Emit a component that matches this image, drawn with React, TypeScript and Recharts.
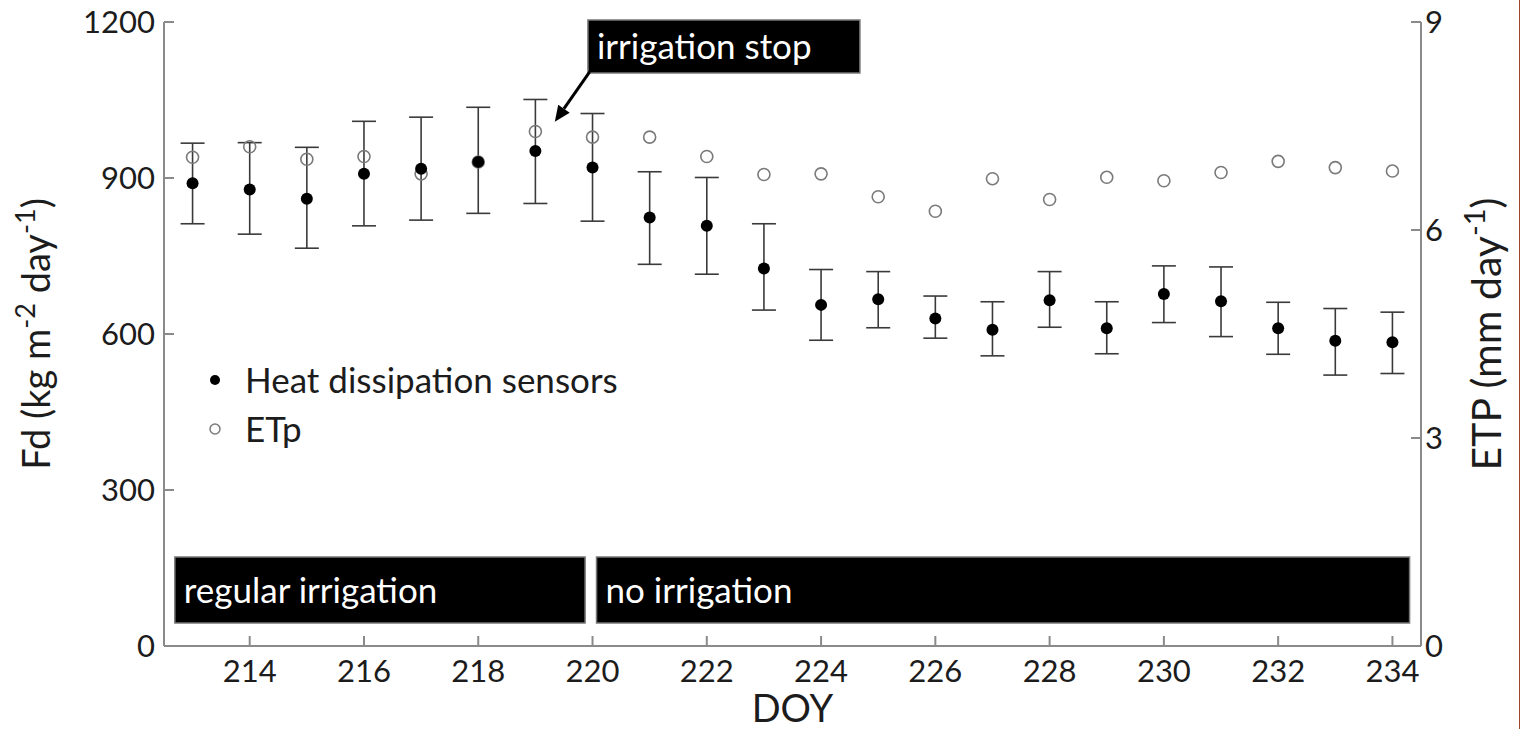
import React from 'react';
import {
  ScatterChart,
  Scatter,
  XAxis,
  YAxis,
  ErrorBar,
  ReferenceArea,
  ReferenceLine,
  Legend,
  Label,
} from 'recharts';

// day of year
const doy = [213, 214, 215, 216, 217, 218, 219, 220, 221, 222, 223, 224, 225, 226, 227, 228, 229, 230, 231, 232, 233, 234];

// sap flux density Fd (kg m-2 day-1), heat dissipation sensors
const fdMean = [890, 878, 860, 908, 918, 931, 952, 920, 824, 808, 726, 656, 667, 630, 608, 665, 611, 677, 663, 611, 587, 584];
const fdUpper = [967, 968, 959, 1009, 1017, 1036, 1051, 1024, 912, 901, 812, 724, 720, 673, 662, 720, 662, 731, 729, 661, 649, 642];
const fdLower = [812, 792, 765, 808, 819, 832, 851, 817, 734, 715, 646, 588, 612, 592, 558, 613, 562, 622, 595, 561, 521, 524];

// potential evapotranspiration (mm day-1)
const etp = [7.05, 7.2, 7.02, 7.06, 6.81, 6.98, 7.42, 7.34, 7.34, 7.06, 6.8, 6.81, 6.48, 6.27, 6.74, 6.44, 6.76, 6.71, 6.83, 6.99, 6.9, 6.85];

const seriesNames = ['Heat dissipation sensors', 'ETp'];

const xTicks = [214, 216, 218, 220, 222, 224, 226, 228, 230, 232, 234];
const fdTicks = [0, 300, 600, 900, 1200];
const etpTicks = [0, 3, 6, 9];

// irrigation periods (DOY) and the band they are drawn in (Fd units)
const periodNames = ['regular irrigation', 'no irrigation'];
const periodStart = [212.69, 220.07];
const periodEnd = [219.87, 234.3];
const periodBand = [44, 171];

// "irrigation stop" note and its arrow
const stopBoxX = [219.92, 224.68];
const stopBoxY = [1102, 1204];
const stopArrow = [
  { x: 219.95, y: 1104 },
  { x: 219.34, y: 1008 },
];

const fdData = doy.map((d, i) => ({
  doy: d,
  fd: fdMean[i],
  err: [fdMean[i] - fdLower[i], fdUpper[i] - fdMean[i]],
}));
const etpData = doy.map((d, i) => ({ doy: d, etp: etp[i] }));

const FONT = 'Lato, "Open Sans", sans-serif';
const AXIS = '#8a8a8a';
const INK = '#1c1c1c';

const tickStyle = { fontSize: 31, fill: INK, fontFamily: FONT };
const noteStyle = { fill: '#fff', fontSize: 35, fontFamily: FONT };

const FilledDot = (p: any) => <circle cx={p.cx} cy={p.cy} r={6} fill="#000" />;
const HollowDot = (p: any) => (
  <circle cx={p.cx} cy={p.cy} r={6} fill="none" stroke="#7a7a7a" strokeWidth={1.6} />
);

const FdTitle = (props: any) => {
  const vb = props.viewBox;
  const x = 50;
  const y = vb.y + vb.height / 2;
  return (
    <text x={x} y={y} transform={`rotate(-90, ${x}, ${y})`} textAnchor="middle" fontSize={38} fill={INK} fontFamily={FONT}>
      Fd (kg m<tspan dy={-15} fontSize={27}>-2</tspan>
      <tspan dy={15}> day</tspan>
      <tspan dy={-15} fontSize={27}>-1</tspan>
      <tspan dy={15}>)</tspan>
    </text>
  );
};

const EtpTitle = (props: any) => {
  const vb = props.viewBox;
  const x = 1501;
  const y = vb.y + vb.height / 2;
  return (
    <text x={x} y={y} transform={`rotate(-90, ${x}, ${y})`} textAnchor="middle" fontSize={41} fill={INK} fontFamily={FONT}>
      ETP (mm day<tspan dy={-16} fontSize={29}>-1</tspan>
      <tspan dy={16}>)</tspan>
    </text>
  );
};

const Arrow = (p: any) => {
  const { x1, y1, x2, y2 } = p;
  const a = Math.atan2(y2 - y1, x2 - x1);
  const len = 16;
  const w = 7;
  const bx = x2 - len * Math.cos(a);
  const by = y2 - len * Math.sin(a);
  const pts = [
    `${x2},${y2}`,
    `${bx + w * Math.sin(a)},${by - w * Math.cos(a)}`,
    `${bx - w * Math.sin(a)},${by + w * Math.cos(a)}`,
  ].join(' ');
  return (
    <g>
      <line x1={x1} y1={y1} x2={bx} y2={by} stroke="#000" strokeWidth={3} />
      <polygon points={pts} fill="#000" />
    </g>
  );
};

const LegendBox = () => (
  <div style={{ fontFamily: FONT, fontSize: 35, color: INK, lineHeight: '49px' }}>
    {seriesNames.map((name, i) => (
      <div key={name} style={{ display: 'flex', alignItems: 'center' }}>
        <svg width={30} height={20} style={{ marginRight: 10 }}>
          {i === 0 ? (
            <circle cx={10} cy={10} r={5} fill="#000" />
          ) : (
            <circle cx={10} cy={10} r={5} fill="none" stroke="#7a7a7a" strokeWidth={1.5} />
          )}
        </svg>
        <span>{name}</span>
      </div>
    ))}
  </div>
);

export default function App() {
  return (
    <div
      style={{
        position: 'absolute',
        left: 0,
        top: 0,
        width: 1519,
        height: 729,
        background: '#fff',
        borderRight: '1px solid #a0442c',
      }}
    >
      <ScatterChart width={1520} height={729} margin={{ top: 22, right: 39, bottom: 23, left: 64 }}>
        <XAxis
          type="number"
          dataKey="doy"
          domain={[212.5, 234.5]}
          ticks={xTicks}
          allowDataOverflow
          stroke={AXIS}
          strokeWidth={2}
          tickSize={-10}
          tickMargin={24}
          tick={tickStyle}
          height={60}
        >
          <Label value="DOY" position="insideBottom" offset={-16} fontSize={38} fill={INK} fontFamily={FONT} />
        </XAxis>
        <YAxis
          yAxisId="fd"
          type="number"
          domain={[0, 1200]}
          ticks={fdTicks}
          stroke={AXIS}
          strokeWidth={2}
          tickSize={-10}
          tickMargin={19}
          tick={tickStyle}
          width={100}
          label={<Label content={FdTitle} />}
        />
        <YAxis
          yAxisId="etp"
          orientation="right"
          type="number"
          domain={[0, 9]}
          ticks={etpTicks}
          stroke={AXIS}
          strokeWidth={2}
          tickSize={-10}
          tickMargin={14}
          tick={{ ...tickStyle, textAnchor: 'start' }}
          width={60}
          label={<Label content={EtpTitle} />}
        />

        {periodNames.map((name, i) => (
          <ReferenceArea
            key={name}
            yAxisId="fd"
            x1={periodStart[i]}
            x2={periodEnd[i]}
            y1={periodBand[0]}
            y2={periodBand[1]}
            fill="#000"
            fillOpacity={1}
            stroke="#777"
            strokeWidth={1.5}
            ifOverflow="visible"
            label={{ value: name, position: 'insideLeft', offset: 9, ...noteStyle }}
          />
        ))}
        <ReferenceArea
          yAxisId="fd"
          x1={stopBoxX[0]}
          x2={stopBoxX[1]}
          y1={stopBoxY[0]}
          y2={stopBoxY[1]}
          fill="#000"
          fillOpacity={1}
          stroke="#777"
          strokeWidth={1.5}
          ifOverflow="visible"
          label={{ value: 'irrigation stop', position: 'insideLeft', offset: 9, ...noteStyle }}
        />
        <ReferenceLine yAxisId="fd" segment={stopArrow} ifOverflow="visible" shape={Arrow} />

        <Scatter
          name={seriesNames[1]}
          data={etpData}
          dataKey="etp"
          yAxisId="etp"
          fill="#7a7a7a"
          shape={HollowDot}
          isAnimationActive={false}
        />
        <Scatter
          name={seriesNames[0]}
          data={fdData}
          dataKey="fd"
          yAxisId="fd"
          fill="#000"
          shape={FilledDot}
          isAnimationActive={false}
        >
          <ErrorBar dataKey="err" direction="y" width={12} stroke="#3a3a3a" strokeWidth={1.6} />
        </Scatter>

        <Legend
          layout="vertical"
          align="center"
          verticalAlign="middle"
          wrapperStyle={{ left: 205, top: 355, width: 460 }}
          content={LegendBox}
        />
      </ScatterChart>
    </div>
  );
}
